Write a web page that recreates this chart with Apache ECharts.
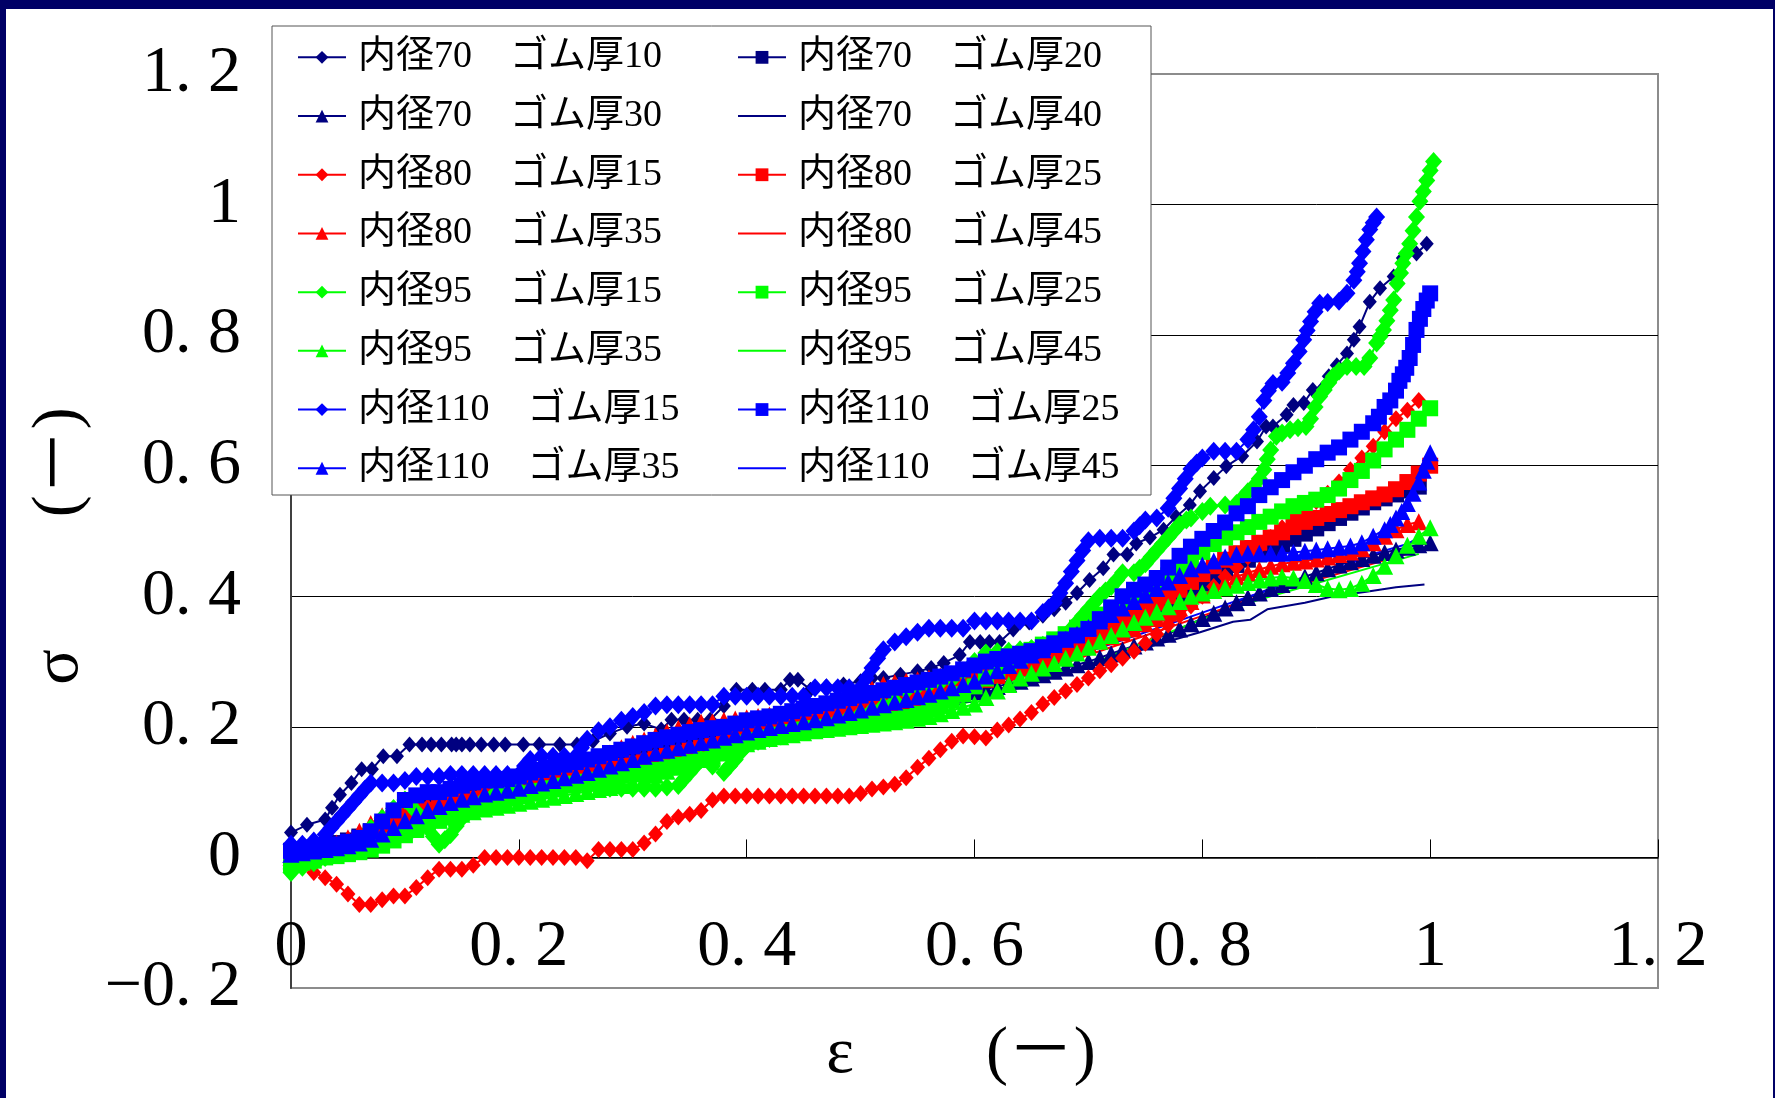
<!DOCTYPE html>
<html>
<head>
<meta charset="utf-8">
<script src="https://cdn.jsdelivr.net/npm/echarts@6/dist/echarts.min.js"></script>
<style>
html, body { margin: 0; padding: 0; background: #fff; }
#chart { width: 1775px; height: 1098px; }
</style>
</head>
<body>
<div id="chart"></div>
<script>
// Strain grid shared by the densely sampled series (ε, step 0.01)
const strain = [0,0.01,0.02,0.03,0.04,0.05,0.06,0.07,0.08,0.09,
  0.10,0.11,0.12,0.13,0.14,0.15,0.16,0.17,0.18,0.19,
  0.20,0.21,0.22,0.23,0.24,0.25,0.26,0.27,0.28,0.29,
  0.30,0.31,0.32,0.33,0.34,0.35,0.36,0.37,0.38,0.39,
  0.40,0.41,0.42,0.43,0.44,0.45,0.46,0.47,0.48,0.49,
  0.50,0.51,0.52,0.53,0.54,0.55,0.56,0.57,0.58,0.59,
  0.60,0.61,0.62,0.63,0.64,0.65,0.66,0.67,0.68,0.69,
  0.70,0.71,0.72,0.73,0.74,0.75,0.76,0.77,0.78,0.79,
  0.80,0.81,0.82,0.83,0.84,0.85,0.86,0.87,0.88,0.89,
  0.90,0.91,0.92,0.93,0.94,0.95,0.96,0.97,0.98,0.99,1.00];

// 内径70 ゴム厚10 : [ε, σ]
const d70_10 = [[0,0.038],[0.014,0.05],[0.03,0.058],[0.036,0.076],[0.043,0.096],[0.053,0.114],[0.062,0.135],[0.071,0.135],
  [0.081,0.155],[0.093,0.155],[0.104,0.173],[0.115,0.173],[0.123,0.173],[0.132,0.173],[0.141,0.173],[0.145,0.173],
  [0.15,0.173],[0.157,0.173],[0.167,0.173],[0.178,0.173],[0.188,0.173],[0.204,0.173],[0.218,0.173],[0.236,0.173],
  [0.251,0.173],[0.265,0.178],[0.28,0.19],[0.295,0.2],[0.31,0.205],[0.325,0.196],[0.334,0.211],[0.345,0.211],
  [0.357,0.211],[0.368,0.211],[0.38,0.232],[0.391,0.257],[0.405,0.257],[0.416,0.257],[0.43,0.257],[0.438,0.272],
  [0.445,0.272],[0.456,0.257],[0.47,0.262],[0.485,0.265],[0.5,0.27],[0.51,0.275],[0.52,0.275],[0.535,0.28],
  [0.55,0.285],[0.562,0.29],[0.573,0.298],[0.587,0.31],[0.596,0.33],[0.605,0.33],[0.613,0.33],[0.622,0.33],
  [0.634,0.349],[0.648,0.36],[0.66,0.37],[0.67,0.38],[0.68,0.39],[0.69,0.405],[0.701,0.425],[0.713,0.443],
  [0.722,0.464],[0.734,0.464],[0.742,0.481],[0.754,0.49],[0.766,0.502],[0.777,0.522],[0.789,0.54],[0.798,0.561],
  [0.81,0.581],[0.821,0.599],[0.835,0.615],[0.848,0.637],[0.856,0.66],[0.862,0.66],[0.874,0.678],[0.88,0.693],
  [0.889,0.696],[0.897,0.716],[0.906,0.719],[0.911,0.737],[0.918,0.754],[0.927,0.772],[0.933,0.793],[0.938,0.813],
  [0.947,0.851],[0.956,0.872],[0.968,0.89],[0.976,0.918],[0.988,0.925],[0.997,0.94]];

// σ values on the strain grid
const s70_20 = [0.010,0.012,0.015,0.018,0.022,0.026,0.032,0.040,0.050,0.060,
  0.068,0.074,0.080,0.085,0.090,0.094,0.098,0.101,0.104,0.107,
  0.110,0.114,0.118,0.122,0.126,0.130,0.134,0.138,0.142,0.146,
  0.150,0.154,0.158,0.162,0.166,0.170,0.174,0.178,0.182,0.186,
  0.190,0.195,0.200,0.204,0.208,0.211,0.214,0.217,0.220,0.223,
  0.226,0.230,0.234,0.238,0.242,0.246,0.250,0.254,0.258,0.262,
  0.266,0.272,0.278,0.284,0.290,0.296,0.302,0.308,0.316,0.324,
  0.332,0.340,0.348,0.356,0.364,0.372,0.380,0.390,0.400,0.410,
  0.420,0.430,0.440,0.448,0.456,0.464,0.472,0.480,0.488,0.496,
  0.504,0.512,0.520,0.528,0.536,0.544,0.550,0.556,0.562,0.568];
const s70_30 = [0.005,0.008,0.010,0.013,0.016,0.020,0.026,0.034,0.042,0.050,
  0.058,0.064,0.070,0.075,0.080,0.084,0.088,0.092,0.096,0.100,
  0.104,0.108,0.112,0.116,0.120,0.124,0.128,0.133,0.138,0.143,
  0.148,0.152,0.156,0.160,0.164,0.168,0.172,0.176,0.180,0.184,
  0.188,0.192,0.196,0.199,0.202,0.205,0.208,0.211,0.214,0.217,
  0.220,0.223,0.226,0.229,0.232,0.235,0.238,0.242,0.246,0.250,
  0.254,0.258,0.262,0.266,0.270,0.275,0.280,0.285,0.290,0.295,
  0.300,0.306,0.312,0.318,0.324,0.330,0.336,0.342,0.350,0.358,
  0.366,0.374,0.382,0.390,0.398,0.405,0.412,0.418,0.424,0.430,
  0.436,0.442,0.448,0.453,0.458,0.463,0.467,0.471,0.475,0.479,0.482];
// 内径70 ゴム厚40 : [ε, σ]
const d70_40 = [[0,0.0],[0.05,0.02],[0.1,0.05],[0.15,0.075],[0.2,0.095],[0.25,0.115],[0.3,0.135],[0.35,0.155],[0.4,0.175],
  [0.45,0.193],[0.5,0.21],[0.55,0.228],[0.6,0.248],[0.65,0.27],[0.7,0.295],[0.725,0.303],[0.754,0.323],[0.798,0.345],
  [0.827,0.361],[0.842,0.364],[0.857,0.38],[0.89,0.39],[0.915,0.4],[0.944,0.407],[0.97,0.414],[0.995,0.418]];

const s80_15 = [0.000,-0.010,-0.023,-0.031,-0.041,-0.056,-0.072,-0.072,-0.065,-0.059,
  -0.059,-0.046,-0.031,-0.018,-0.018,-0.018,-0.012,0.000,0.000,0.000,
  0.000,0.000,0.000,0.000,0.000,0.000,-0.005,0.012,0.012,0.012,
  0.012,0.022,0.036,0.055,0.062,0.066,0.072,0.088,0.094,0.094,
  0.094,0.094,0.094,0.094,0.094,0.094,0.094,0.094,0.094,0.094,
  0.098,0.105,0.108,0.112,0.122,0.138,0.152,0.165,0.178,0.186,
  0.185,0.183,0.195,0.203,0.212,0.222,0.235,0.245,0.255,0.265,
  0.275,0.286,0.295,0.305,0.316,0.328,0.342,0.356,0.370,0.385,
  0.400,0.415,0.430,0.445,0.460,0.475,0.490,0.505,0.520,0.532,
  0.545,0.558,0.575,0.594,0.612,0.630,0.652,0.672,0.685,0.700];
const s80_25 = [0.000,0.003,0.006,0.010,0.015,0.020,0.028,0.038,0.048,0.056,
  0.062,0.068,0.073,0.078,0.082,0.086,0.090,0.094,0.098,0.101,
  0.104,0.108,0.112,0.116,0.120,0.124,0.128,0.132,0.136,0.140,
  0.144,0.148,0.152,0.156,0.160,0.164,0.168,0.172,0.176,0.182,
  0.188,0.192,0.196,0.200,0.204,0.207,0.210,0.213,0.216,0.220,
  0.224,0.228,0.232,0.236,0.240,0.244,0.248,0.252,0.256,0.261,
  0.266,0.272,0.278,0.284,0.290,0.296,0.302,0.310,0.318,0.326,
  0.334,0.343,0.352,0.361,0.370,0.380,0.390,0.400,0.410,0.422,
  0.434,0.446,0.456,0.466,0.474,0.482,0.490,0.498,0.506,0.514,
  0.520,0.526,0.532,0.538,0.544,0.550,0.556,0.564,0.575,0.588,0.600];
const s80_35 = [0.000,0.005,0.010,0.016,0.022,0.030,0.040,0.052,0.064,0.072,
  0.078,0.080,0.080,0.082,0.086,0.090,0.094,0.098,0.102,0.106,
  0.110,0.114,0.118,0.122,0.126,0.132,0.140,0.150,0.160,0.168,
  0.175,0.180,0.186,0.192,0.198,0.203,0.207,0.208,0.210,0.212,
  0.214,0.216,0.218,0.220,0.222,0.224,0.226,0.228,0.230,0.240,
  0.250,0.258,0.265,0.268,0.270,0.272,0.275,0.278,0.281,0.284,
  0.287,0.290,0.294,0.298,0.302,0.306,0.310,0.314,0.318,0.322,
  0.327,0.332,0.338,0.344,0.350,0.358,0.366,0.374,0.382,0.392,
  0.402,0.412,0.422,0.430,0.436,0.441,0.446,0.450,0.452,0.454,
  0.457,0.460,0.464,0.468,0.473,0.482,0.492,0.502,0.510,0.514];
// 内径80 ゴム厚45 : [ε, σ]
const d80_45 = [[0,0.0],[0.05,0.025],[0.1,0.06],[0.15,0.085],[0.2,0.1],[0.25,0.12],[0.3,0.142],[0.35,0.163],[0.4,0.183],
  [0.45,0.2],[0.5,0.215],[0.55,0.235],[0.6,0.255],[0.65,0.28],[0.7,0.31],[0.75,0.34],[0.8,0.37],[0.85,0.4],
  [0.9,0.425],[0.95,0.45],[0.99,0.47]];

// 内径95 ゴム厚15 : [ε, σ]
const d95_15 = [[0,-0.023],[0.01,-0.015],[0.02,-0.008],[0.03,0],[0.04,0.005],[0.05,0.012],[0.06,0.028],[0.07,0.045],
  [0.08,0.06],[0.09,0.075],[0.1,0.088],[0.105,0.08],[0.11,0.07],[0.115,0.058],[0.12,0.045],[0.125,0.032],[0.13,0.02],
  [0.135,0.027],[0.14,0.035],[0.145,0.048],[0.15,0.06],[0.16,0.078],[0.17,0.09],[0.18,0.1],[0.19,0.104],[0.2,0.104],
  [0.21,0.104],[0.22,0.104],[0.23,0.106],[0.24,0.106],[0.25,0.106],[0.26,0.106],[0.27,0.106],[0.28,0.106],[0.29,0.106],
  [0.3,0.106],[0.31,0.106],[0.32,0.106],[0.33,0.108],[0.34,0.11],[0.345,0.12],[0.35,0.13],[0.355,0.14],[0.36,0.15],
  [0.37,0.14],[0.38,0.13],[0.385,0.14],[0.39,0.15],[0.395,0.162],[0.4,0.172],[0.41,0.178],[0.42,0.182],[0.43,0.186],
  [0.44,0.19],[0.45,0.195],[0.46,0.2],[0.47,0.205],[0.48,0.21],[0.49,0.215],[0.5,0.22],[0.51,0.225],[0.52,0.232],
  [0.53,0.24],[0.54,0.255],[0.55,0.262],[0.56,0.265],[0.57,0.268],[0.58,0.272],[0.59,0.285],[0.6,0.3],[0.61,0.313],
  [0.62,0.315],[0.63,0.316],[0.64,0.318],[0.65,0.32],[0.66,0.325],[0.67,0.33],[0.68,0.34],[0.685,0.35],[0.69,0.36],
  [0.695,0.37],[0.7,0.38],[0.705,0.39],[0.71,0.4],[0.715,0.408],[0.72,0.415],[0.725,0.425],[0.73,0.436],[0.74,0.436],
  [0.745,0.443],[0.75,0.45],[0.755,0.46],[0.76,0.47],[0.765,0.48],[0.77,0.49],[0.775,0.5],[0.78,0.51],[0.786,0.517],
  [0.79,0.52],[0.8,0.53],[0.807,0.538],[0.82,0.54],[0.83,0.542],[0.835,0.55],[0.84,0.56],[0.845,0.568],[0.85,0.58],
  [0.854,0.594],[0.857,0.61],[0.86,0.624],[0.865,0.645],[0.87,0.65],[0.877,0.655],[0.884,0.658],[0.891,0.66],
  [0.895,0.672],[0.899,0.69],[0.903,0.706],[0.907,0.716],[0.911,0.727],[0.915,0.737],[0.92,0.745],[0.927,0.752],
  [0.935,0.752],[0.942,0.752],[0.947,0.765],[0.953,0.788],[0.956,0.798],[0.959,0.808],[0.962,0.822],[0.965,0.838],
  [0.968,0.854],[0.971,0.879],[0.974,0.895],[0.976,0.91],[0.979,0.925],[0.982,0.94],[0.985,0.96],[0.988,0.981],
  [0.991,1.005],[0.994,1.02],[0.997,1.037],[1.0,1.052],[1.003,1.066]];
const s95_25 = [-0.010,-0.008,-0.005,0.000,0.002,0.005,0.008,0.012,0.018,0.026,
  0.034,0.042,0.050,0.056,0.062,0.068,0.074,0.080,0.085,0.090,
  0.094,0.098,0.102,0.106,0.110,0.113,0.116,0.119,0.122,0.125,
  0.128,0.130,0.134,0.138,0.142,0.146,0.150,0.155,0.160,0.168,
  0.176,0.180,0.184,0.188,0.192,0.196,0.198,0.200,0.202,0.204,
  0.206,0.208,0.210,0.212,0.215,0.220,0.226,0.232,0.240,0.250,
  0.262,0.274,0.286,0.298,0.308,0.318,0.326,0.334,0.342,0.352,
  0.362,0.372,0.382,0.392,0.402,0.412,0.422,0.432,0.444,0.456,
  0.468,0.480,0.490,0.498,0.506,0.514,0.522,0.530,0.538,0.543,
  0.548,0.555,0.565,0.578,0.592,0.608,0.625,0.640,0.655,0.672,0.688];
const s95_35 = [-0.005,-0.003,0.000,0.004,0.008,0.012,0.018,0.024,0.030,0.036,
  0.042,0.048,0.054,0.058,0.062,0.066,0.070,0.074,0.077,0.080,
  0.083,0.086,0.089,0.092,0.095,0.098,0.101,0.104,0.107,0.110,
  0.114,0.120,0.126,0.132,0.138,0.144,0.150,0.155,0.160,0.167,
  0.174,0.178,0.182,0.185,0.188,0.191,0.194,0.196,0.198,0.200,
  0.202,0.204,0.206,0.208,0.210,0.213,0.216,0.220,0.225,0.230,
  0.235,0.245,0.255,0.265,0.275,0.282,0.290,0.297,0.305,0.313,
  0.322,0.331,0.340,0.350,0.360,0.368,0.376,0.384,0.392,0.400,
  0.405,0.409,0.413,0.417,0.421,0.425,0.428,0.430,0.428,0.424,
  0.418,0.412,0.410,0.412,0.420,0.432,0.446,0.462,0.478,0.492,0.505];
// 内径95 ゴム厚45 : [ε, σ]
const d95_45 = [[0,-0.01],[0.05,0.008],[0.1,0.045],[0.15,0.07],[0.2,0.09],[0.25,0.11],[0.3,0.13],[0.35,0.152],[0.4,0.173],
  [0.45,0.19],[0.5,0.205],[0.55,0.22],[0.6,0.24],[0.65,0.265],[0.7,0.295],[0.75,0.33],[0.8,0.365],[0.85,0.395],
  [0.9,0.42],[0.95,0.445],[0.99,0.465]];

// 内径110 ゴム厚15 : [ε, σ]
const d110_15 = [[0,0.02],[0.01,0.02],[0.02,0.025],[0.03,0.035],[0.035,0.045],[0.04,0.055],[0.045,0.065],[0.05,0.075],
  [0.055,0.085],[0.06,0.095],[0.065,0.105],[0.07,0.114],[0.08,0.114],[0.09,0.114],[0.1,0.118],[0.11,0.124],[0.12,0.124],
  [0.13,0.124],[0.14,0.127],[0.15,0.127],[0.16,0.127],[0.17,0.127],[0.18,0.127],[0.19,0.127],[0.2,0.127],[0.205,0.14],
  [0.21,0.15],[0.22,0.155],[0.23,0.155],[0.24,0.155],[0.25,0.155],[0.255,0.168],[0.26,0.181],[0.27,0.194],[0.28,0.2],
  [0.29,0.21],[0.3,0.216],[0.31,0.222],[0.32,0.232],[0.33,0.234],[0.34,0.234],[0.35,0.234],[0.36,0.234],[0.37,0.234],
  [0.38,0.247],[0.39,0.247],[0.4,0.247],[0.41,0.247],[0.42,0.247],[0.43,0.247],[0.44,0.247],[0.45,0.247],[0.46,0.26],
  [0.47,0.26],[0.48,0.26],[0.49,0.26],[0.5,0.26],[0.505,0.275],[0.51,0.29],[0.515,0.305],[0.52,0.318],[0.53,0.33],
  [0.54,0.338],[0.55,0.345],[0.56,0.351],[0.57,0.351],[0.58,0.351],[0.59,0.351],[0.6,0.362],[0.61,0.362],[0.62,0.362],
  [0.63,0.362],[0.64,0.362],[0.65,0.362],[0.66,0.375],[0.665,0.382],[0.67,0.39],[0.675,0.405],[0.68,0.42],[0.685,0.438],
  [0.69,0.455],[0.695,0.47],[0.7,0.485],[0.71,0.489],[0.72,0.489],[0.73,0.489],[0.74,0.5],[0.745,0.508],[0.75,0.517],
  [0.76,0.52],[0.77,0.535],[0.775,0.55],[0.78,0.565],[0.785,0.58],[0.79,0.595],[0.795,0.604],[0.8,0.612],[0.81,0.622],
  [0.82,0.622],[0.83,0.622],[0.84,0.64],[0.845,0.655],[0.85,0.675],[0.854,0.7],[0.858,0.715],[0.862,0.726],[0.87,0.728],
  [0.875,0.742],[0.88,0.757],[0.885,0.775],[0.889,0.793],[0.892,0.807],[0.895,0.821],[0.899,0.836],[0.903,0.849],
  [0.91,0.85],[0.92,0.852],[0.927,0.864],[0.933,0.884],[0.936,0.897],[0.938,0.91],[0.941,0.928],[0.944,0.946],
  [0.947,0.962],[0.95,0.972],[0.953,0.981]];
const s110_25 = [0.010,0.012,0.015,0.018,0.020,0.024,0.030,0.040,0.055,0.072,
  0.088,0.095,0.100,0.100,0.105,0.110,0.115,0.118,0.118,0.120,
  0.124,0.130,0.134,0.138,0.142,0.146,0.150,0.155,0.160,0.165,
  0.170,0.175,0.180,0.184,0.188,0.192,0.195,0.198,0.200,0.205,
  0.210,0.213,0.216,0.220,0.224,0.228,0.232,0.236,0.240,0.244,
  0.248,0.252,0.256,0.260,0.264,0.268,0.272,0.277,0.282,0.288,
  0.294,0.300,0.304,0.308,0.312,0.316,0.322,0.328,0.334,0.340,
  0.350,0.365,0.383,0.400,0.410,0.418,0.428,0.444,0.462,0.476,
  0.488,0.500,0.513,0.527,0.538,0.555,0.567,0.578,0.590,0.600,
  0.610,0.620,0.628,0.640,0.652,0.665];
const t110_25 = [[0.955,0.675],[0.96,0.69],[0.965,0.7],[0.97,0.715],[0.973,0.73],[0.976,0.74],[0.979,0.75],[0.982,0.765],
  [0.985,0.785],[0.988,0.808],[0.991,0.825],[0.994,0.84],[0.997,0.853],[1.0,0.864]];
const s110_35 = [0.005,0.007,0.010,0.012,0.015,0.018,0.022,0.028,0.036,0.046,
  0.056,0.064,0.072,0.078,0.084,0.089,0.093,0.097,0.100,0.103,
  0.106,0.110,0.114,0.118,0.122,0.126,0.130,0.135,0.140,0.145,
  0.150,0.155,0.160,0.164,0.168,0.172,0.176,0.180,0.184,0.188,
  0.192,0.196,0.199,0.202,0.205,0.208,0.211,0.214,0.218,0.222,
  0.226,0.230,0.234,0.238,0.242,0.246,0.250,0.255,0.260,0.265,
  0.270,0.278,0.286,0.294,0.302,0.310,0.318,0.326,0.334,0.342,
  0.352,0.362,0.372,0.382,0.392,0.402,0.412,0.422,0.432,0.442,
  0.448,0.454,0.460,0.464,0.466,0.466,0.466,0.466,0.467,0.469,
  0.471,0.473,0.475,0.477,0.482,0.492,0.502];
const t110_35 = [[0.965,0.51],[0.97,0.52],[0.975,0.53],[0.98,0.542],[0.985,0.558],[0.99,0.575],[0.994,0.593],
  [0.997,0.607],[1.0,0.62]];
// 内径110 ゴム厚45 : [ε, σ]
const d110_45 = [[0,0.0],[0.05,0.015],[0.1,0.055],[0.15,0.08],[0.2,0.098],[0.25,0.122],[0.3,0.147],[0.35,0.168],[0.4,0.188],
  [0.45,0.205],[0.5,0.22],[0.55,0.24],[0.6,0.26],[0.65,0.285],[0.7,0.315],[0.75,0.345],[0.8,0.375],[0.85,0.405],
  [0.9,0.43],[0.93,0.45],[0.95,0.465],[0.98,0.48],[0.99,0.49]];

// Axis ticks
const xTicks = { min: 0, max: 1.2, step: 0.2 };
const yTicks = { min: -0.2, max: 1.2, step: 0.2 };

const NAVY = '#000080', RED = '#ff0000', GREEN = '#00ff00', BLUE = '#0000ff';
const SERIF = "'Liberation Serif','Noto Sans CJK JP',serif";

function onGrid(vals) { return vals.map((v, i) => [strain[i], v]); }

// name, colour, marker, marker size, data
const defs = [
  ['内径70　ゴム厚10', NAVY, 'diamond', [14, 16], d70_10],
  ['内径70　ゴム厚20', NAVY, 'rect', 16, onGrid(s70_20)],
  ['内径70　ゴム厚30', NAVY, 'triangle', 17, onGrid(s70_30)],
  ['内径70　ゴム厚40', NAVY, 'none', 0, d70_40],
  ['内径80　ゴム厚15', RED, 'diamond', [15, 17], onGrid(s80_15)],
  ['内径80　ゴム厚25', RED, 'rect', 16, onGrid(s80_25)],
  ['内径80　ゴム厚35', RED, 'triangle', 17, onGrid(s80_35)],
  ['内径80　ゴム厚45', RED, 'none', 0, d80_45],
  ['内径95　ゴム厚15', GREEN, 'diamond', [17, 19], d95_15],
  ['内径95　ゴム厚25', GREEN, 'rect', 16, onGrid(s95_25)],
  ['内径95　ゴム厚35', GREEN, 'triangle', 17, onGrid(s95_35)],
  ['内径95　ゴム厚45', GREEN, 'none', 0, d95_45],
  ['内径110　ゴム厚15', BLUE, 'diamond', [17, 19], d110_15],
  ['内径110　ゴム厚25', BLUE, 'rect', 16, onGrid(s110_25).concat(t110_25)],
  ['内径110　ゴム厚35', BLUE, 'triangle', 17, onGrid(s110_35).concat(t110_35)],
  ['内径110　ゴム厚45', BLUE, 'none', 0, d110_45]
];

const series = defs.map(([name, color, symbol, size, data]) => ({
  type: 'line',
  name: name,
  data: data,
  xAxisIndex: 0,
  symbol: symbol,
  symbolSize: size,
  showSymbol: symbol !== 'none',
  lineStyle: { color: color, width: 2 },
  itemStyle: { color: color, borderWidth: 0 },
  emphasis: { disabled: true },
  animation: false,
  z: 2
}));

// Legend entries: plain line for the series drawn without markers
const legendItem = d => d[2] === 'none' ? { name: d[0], itemStyle: { opacity: 0 } } : { name: d[0] };
const leftCol = defs.filter((d, i) => i % 2 === 0).map(legendItem);
const rightCol = defs.filter((d, i) => i % 2 === 1).map(legendItem);

const legendBase = {
  orient: 'vertical',
  top: 28,
  padding: 0,
  itemGap: 0,
  itemWidth: 48,
  itemHeight: 16,
  selectedMode: false,
  z: 6,
  textStyle: { fontSize: 38, lineHeight: 58.7, color: '#000', fontFamily: SERIF, padding: [0, 0, 0, 7] }
};

const fmtTick = v => String(v).replace('-', '−').replace('.', '. ');

const chart = echarts.init(document.getElementById('chart'), null, { renderer: 'canvas' });
chart.setOption({
  animation: false,
  backgroundColor: '#fff',
  grid: {
    left: 291, top: 74, right: 117, bottom: 110,
    outerBoundsMode: 'none', containLabel: false,
    show: true, borderColor: '#8c8c8c', borderWidth: 2, backgroundColor: 'transparent'
  },
  xAxis: [
    { // labels along the bottom edge, inside the plot
      type: 'value', min: xTicks.min, max: xTicks.max, interval: xTicks.step, position: 'bottom',
      axisLine: { show: false, onZero: false },
      axisTick: { show: false },
      axisLabel: { inside: true, margin: 7, fontSize: 66, fontFamily: SERIF, color: '#000', formatter: fmtTick,
                   showMinLabel: true, showMaxLabel: true },
      splitLine: { show: false }
    },
    { // axis line and ticks at σ = 0
      type: 'value', min: xTicks.min, max: xTicks.max, interval: xTicks.step, position: 'bottom',
      axisLine: { show: true, onZero: true, lineStyle: { color: '#000', width: 1.5 } },
      axisTick: { show: true, inside: true, length: 18, lineStyle: { color: '#000', width: 1 } },
      axisLabel: { show: false },
      splitLine: { show: false }
    }
  ],
  yAxis: {
    type: 'value', min: yTicks.min, max: yTicks.max, interval: yTicks.step,
    axisLine: { show: true, lineStyle: { color: '#404040', width: 2 } },
    axisTick: { show: false },
    axisLabel: { margin: 50, fontSize: 66, fontFamily: SERIF, color: '#000', formatter: fmtTick,
                 showMinLabel: true, showMaxLabel: true },
    splitLine: { show: true, lineStyle: { width: 1,
      color: ['rgba(0,0,0,0)', '#000', '#000', '#000', '#000', '#000', '#000', 'rgba(0,0,0,0)'] } }
  },
  legend: [
    Object.assign({}, legendBase, { left: 297, data: leftCol }),
    Object.assign({}, legendBase, { left: 737, data: rightCol })
  ],
  graphic: [
    // legend frame
    { type: 'rect', z: 3, shape: { x: 272, y: 26, width: 879, height: 469 },
      style: { fill: '#fff', stroke: '#555', lineWidth: 1 } },
    // axis titles
    { type: 'text', z: 10, x: 961, y: 1055,
      style: { text: 'ε　　(－)', font: "66px 'Liberation Serif','Noto Sans CJK JP',serif", fill: '#000',
               textAlign: 'center', textVerticalAlign: 'middle' } },
    { type: 'text', z: 10, x: 60, y: 546, rotation: Math.PI / 2,
      style: { text: 'σ　　(－)', font: "66px 'Liberation Serif','Noto Sans CJK JP',serif", fill: '#000',
               textAlign: 'center', textVerticalAlign: 'middle' } },
    // navy frame around the figure
    { type: 'rect', z: 100, shape: { x: 0, y: 0, width: 1775, height: 9 }, style: { fill: '#000066' } },
    { type: 'rect', z: 100, shape: { x: 0, y: 0, width: 6, height: 1098 }, style: { fill: '#000066' } },
    { type: 'rect', z: 100, shape: { x: 1773, y: 0, width: 2, height: 1098 }, style: { fill: '#000066' } }
  ],
  series: series
});
</script>
</body>
</html>
